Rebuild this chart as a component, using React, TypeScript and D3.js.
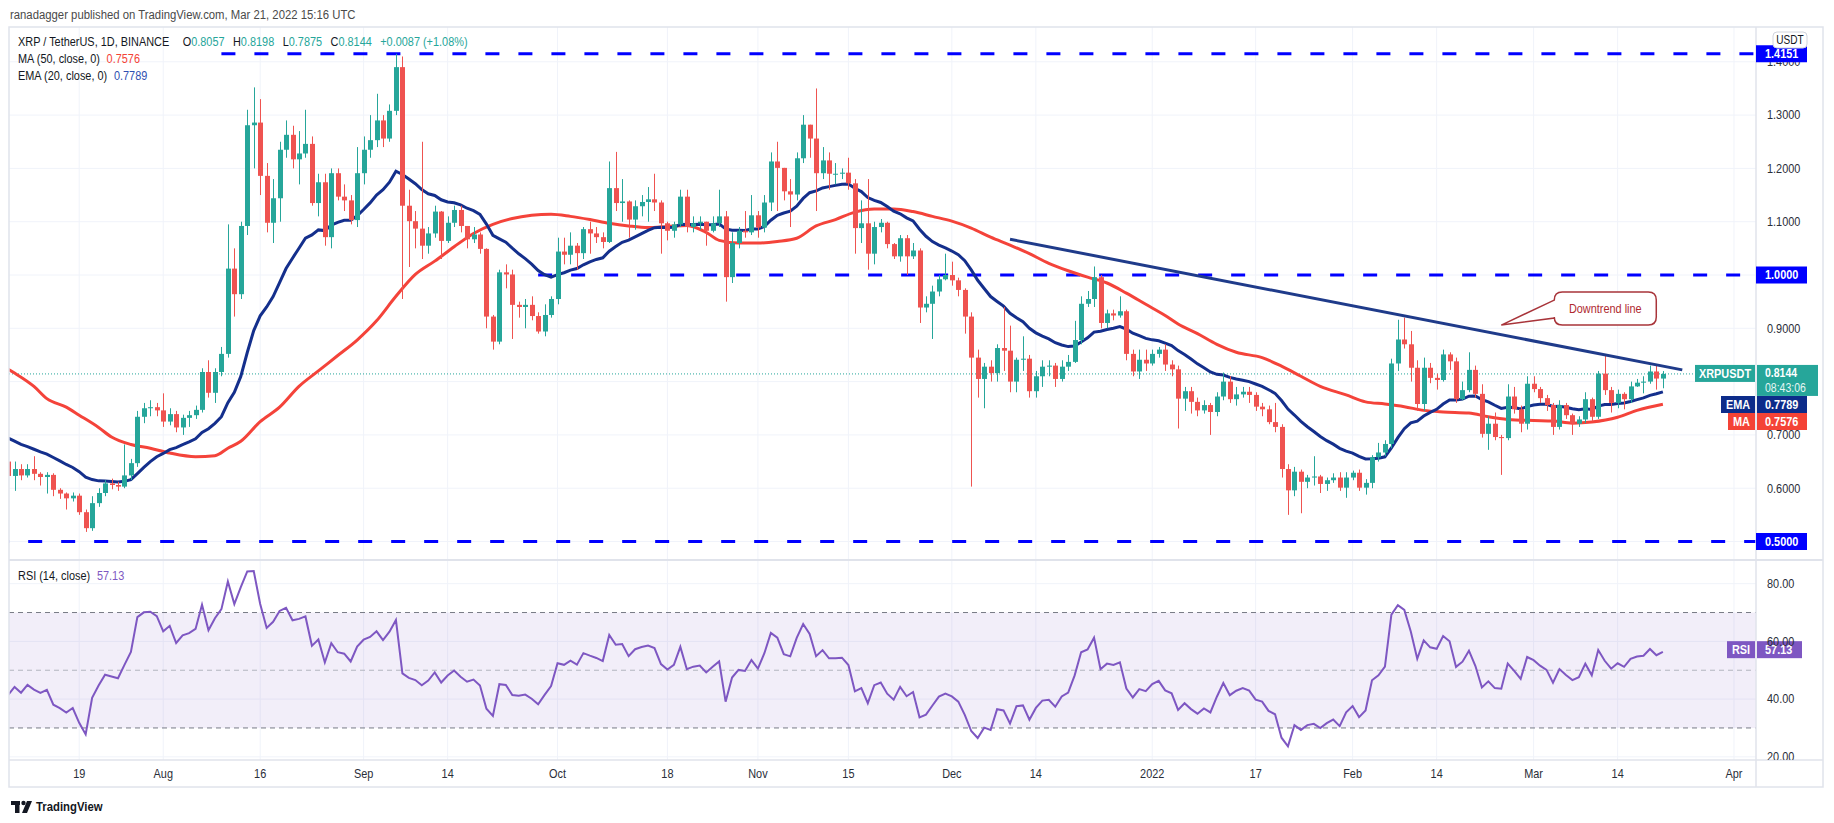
import React, { useEffect, useRef } from 'react';
import * as d3 from 'd3';

// XRP / TetherUS daily, Jul 8 2021 -> Mar 21 2022 (open = previous close)
const firstDay = '2021-07-08';
const firstOpen = 0.650;

const closes = [
  // Jul 8-31
  0.623, 0.636, 0.624, 0.636, 0.627, 0.621, 0.625, 0.597, 0.590, 0.581, 0.586, 0.555, 0.525, 0.572, 0.591, 0.609, 0.606, 0.603, 0.624, 0.647, 0.734, 0.750, 0.752, 0.746,
  // Aug
  0.725, 0.739, 0.714, 0.732, 0.737, 0.747, 0.818, 0.779, 0.818, 0.852, 1.012, 0.964, 1.092, 1.281, 1.286, 1.186, 1.098, 1.144, 1.235, 1.263, 1.217, 1.228, 1.246, 1.135, 1.174, 1.071, 1.191, 1.147, 1.140, 1.103, 1.191,
  // Sep
  1.235, 1.253, 1.290, 1.256, 1.308, 1.390, 1.130, 1.101, 1.087, 1.055, 1.078, 1.119, 1.064, 1.098, 1.122, 1.092, 1.067, 1.076, 1.049, 0.922, 0.875, 1.005, 1.001, 0.944, 0.940, 0.944, 0.923, 0.894, 0.925, 0.955,
  // Oct
  1.044, 1.038, 1.055, 1.041, 1.086, 1.078, 1.071, 1.062, 1.163, 1.135, 1.138, 1.104, 1.129, 1.137, 1.142, 1.136, 1.097, 1.083, 1.095, 1.147, 1.090, 1.097, 1.100, 1.083, 1.097, 1.110, 0.996, 1.060, 1.083, 1.080, 1.112,
  // Nov
  1.089, 1.136, 1.213, 1.201, 1.157, 1.151, 1.219, 1.282, 1.256, 1.191, 1.215, 1.190, 1.190, 1.192, 1.172, 1.088, 1.097, 1.040, 1.090, 1.098, 1.058, 1.035, 1.069, 1.035, 1.046, 0.939, 0.946, 0.969, 0.992, 1.000,
  // Dec
  0.990, 0.972, 0.922, 0.845, 0.805, 0.828, 0.816, 0.863, 0.858, 0.800, 0.841, 0.843, 0.782, 0.810, 0.828, 0.830, 0.805, 0.828, 0.837, 0.878, 0.946, 0.955, 0.996, 0.910, 0.928, 0.924, 0.932, 0.852, 0.819, 0.841, 0.834,
  // Jan
  0.852, 0.860, 0.832, 0.823, 0.768, 0.782, 0.762, 0.746, 0.756, 0.743, 0.772, 0.800, 0.767, 0.776, 0.781, 0.775, 0.753, 0.748, 0.724, 0.715, 0.636, 0.596, 0.631, 0.612, 0.620, 0.622, 0.608, 0.615, 0.620, 0.601, 0.620,
  // Feb
  0.629, 0.601, 0.610, 0.658, 0.667, 0.683, 0.834, 0.879, 0.870, 0.826, 0.758, 0.826, 0.807, 0.803, 0.851, 0.838, 0.767, 0.784, 0.822, 0.777, 0.702, 0.721, 0.696, 0.694, 0.772, 0.748, 0.721, 0.796,
  // Mar 1-21
  0.786, 0.769, 0.756, 0.715, 0.756, 0.737, 0.721, 0.729, 0.767, 0.734, 0.815, 0.784, 0.760, 0.777, 0.767, 0.791, 0.798, 0.800, 0.819, 0.8057, 0.8144,
];

const highs = [
  0.655, 0.650, 0.645, 0.645, 0.660, 0.630, 0.630, 0.628, 0.600, 0.592, 0.592, 0.590, 0.560, 0.585, 0.600, 0.615, 0.618, 0.612, 0.682, 0.655, 0.745, 0.760, 0.765, 0.760,
  0.778, 0.750, 0.745, 0.738, 0.745, 0.755, 0.825, 0.840, 0.825, 0.865, 1.095, 1.050, 1.100, 1.310, 1.352, 1.330, 1.210, 1.180, 1.250, 1.290, 1.280, 1.270, 1.310, 1.260, 1.190, 1.190, 1.200, 1.200, 1.170, 1.150, 1.240,
  1.260, 1.300, 1.340, 1.300, 1.320, 1.415, 1.410, 1.160, 1.120, 1.250, 1.090, 1.130, 1.120, 1.110, 1.130, 1.130, 1.090, 1.090, 1.080, 1.050, 0.925, 1.010, 1.020, 1.010, 0.950, 0.955, 0.960, 0.930, 0.945, 0.960,
  1.070, 1.070, 1.080, 1.060, 1.090, 1.100, 1.090, 1.080, 1.213, 1.231, 1.180, 1.140, 1.140, 1.150, 1.165, 1.190, 1.140, 1.100, 1.100, 1.160, 1.160, 1.110, 1.110, 1.100, 1.110, 1.160, 1.120, 1.080, 1.090, 1.120, 1.150,
  1.120, 1.150, 1.230, 1.250, 1.200, 1.180, 1.230, 1.300, 1.280, 1.350, 1.240, 1.230, 1.210, 1.200, 1.220, 1.180, 1.140, 1.180, 1.100, 1.105, 1.100, 1.060, 1.075, 1.075, 1.060, 1.050, 0.960, 0.980, 1.000, 1.040,
  1.025, 0.995, 0.975, 0.930, 0.860, 0.835, 0.840, 0.870, 0.940, 0.905, 0.845, 0.885, 0.850, 0.820, 0.840, 0.840, 0.835, 0.840, 0.850, 0.914, 0.960, 0.970, 1.016, 1.000, 0.935, 0.935, 0.960, 0.935, 0.860, 0.860, 0.860,
  0.860, 0.865, 0.870, 0.840, 0.830, 0.790, 0.790, 0.770, 0.765, 0.760, 0.780, 0.817, 0.810, 0.790, 0.790, 0.790, 0.780, 0.760, 0.755, 0.760, 0.720, 0.645, 0.640, 0.635, 0.625, 0.660, 0.625, 0.620, 0.628, 0.630, 0.630,
  0.633, 0.635, 0.617, 0.662, 0.685, 0.690, 0.843, 0.916, 0.920, 0.895, 0.840, 0.845, 0.835, 0.815, 0.860, 0.855, 0.845, 0.800, 0.855, 0.830, 0.795, 0.735, 0.742, 0.700, 0.795, 0.790, 0.755, 0.810,
  0.810, 0.790, 0.775, 0.760, 0.765, 0.760, 0.740, 0.735, 0.780, 0.770, 0.820, 0.848, 0.790, 0.785, 0.780, 0.800, 0.805, 0.810, 0.830, 0.830, 0.8198,
];

const lows = [
  0.615, 0.595, 0.615, 0.620, 0.615, 0.605, 0.590, 0.585, 0.580, 0.560, 0.575, 0.550, 0.518, 0.520, 0.565, 0.585, 0.598, 0.595, 0.600, 0.615, 0.640, 0.722, 0.735, 0.735,
  0.715, 0.718, 0.705, 0.700, 0.715, 0.730, 0.742, 0.770, 0.760, 0.810, 0.845, 0.922, 0.955, 1.075, 1.200, 1.150, 1.080, 1.060, 1.100, 1.220, 1.200, 1.170, 1.220, 1.130, 1.110, 1.055, 1.050, 1.140, 1.120, 1.095, 1.090,
  1.170, 1.220, 1.240, 1.240, 1.250, 1.300, 0.955, 1.015, 1.050, 1.030, 1.040, 1.070, 1.030, 1.060, 1.090, 1.080, 1.050, 1.060, 1.040, 0.900, 0.860, 0.870, 0.975, 0.880, 0.920, 0.900, 0.915, 0.890, 0.885, 0.920,
  0.945, 1.020, 1.020, 1.010, 1.030, 1.040, 1.060, 1.050, 1.060, 1.120, 1.100, 1.070, 1.085, 1.110, 1.100, 1.120, 1.040, 1.065, 1.070, 1.090, 1.080, 1.080, 1.085, 1.055, 1.080, 1.090, 0.950, 0.985, 1.050, 1.070, 1.075,
  1.070, 1.080, 1.120, 1.120, 1.140, 1.090, 1.140, 1.210, 1.220, 1.120, 1.180, 1.160, 1.170, 1.180, 1.160, 1.040, 1.060, 1.010, 1.020, 1.080, 1.050, 1.030, 1.025, 1.000, 1.030, 0.910, 0.930, 0.880, 0.960, 0.990,
  0.980, 0.960, 0.890, 0.603, 0.770, 0.750, 0.800, 0.800, 0.820, 0.780, 0.780, 0.820, 0.770, 0.770, 0.790, 0.810, 0.790, 0.800, 0.820, 0.835, 0.870, 0.940, 0.940, 0.900, 0.900, 0.915, 0.920, 0.840, 0.810, 0.805, 0.820,
  0.830, 0.845, 0.820, 0.810, 0.712, 0.745, 0.740, 0.735, 0.740, 0.700, 0.735, 0.765, 0.760, 0.755, 0.770, 0.760, 0.745, 0.735, 0.720, 0.705, 0.620, 0.550, 0.585, 0.553, 0.600, 0.605, 0.591, 0.595, 0.610, 0.595, 0.582,
  0.615, 0.595, 0.588, 0.600, 0.650, 0.660, 0.675, 0.820, 0.862, 0.800, 0.745, 0.745, 0.797, 0.785, 0.800, 0.822, 0.760, 0.765, 0.780, 0.770, 0.695, 0.672, 0.690, 0.625, 0.690, 0.740, 0.705, 0.710,
  0.780, 0.760, 0.745, 0.700, 0.710, 0.730, 0.700, 0.715, 0.722, 0.725, 0.730, 0.775, 0.742, 0.750, 0.748, 0.760, 0.790, 0.778, 0.796, 0.785, 0.7875,
];

// MA(50)
const maDates = [
  '2021-07-07', '2021-07-09', '2021-07-12', '2021-07-14', '2021-07-17', '2021-07-19', '2021-07-22', '2021-07-24', '2021-07-27', '2021-07-30', '2021-08-02',
  '2021-08-06', '2021-08-09', '2021-08-11', '2021-08-13', '2021-08-16', '2021-08-19', '2021-08-22', '2021-08-25', '2021-08-28', '2021-08-31',
  '2021-09-03', '2021-09-06', '2021-09-09', '2021-09-12', '2021-09-15', '2021-09-18', '2021-09-21', '2021-09-24', '2021-09-27', '2021-09-30',
  '2021-10-03', '2021-10-06', '2021-10-09', '2021-10-12', '2021-10-15', '2021-10-18', '2021-10-21', '2021-10-24', '2021-10-26', '2021-10-29',
  '2021-11-01', '2021-11-04', '2021-11-07', '2021-11-10', '2021-11-13', '2021-11-16', '2021-11-19', '2021-11-22', '2021-11-25', '2021-11-28',
  '2021-12-01', '2021-12-04', '2021-12-07', '2021-12-10', '2021-12-13', '2021-12-16', '2021-12-19', '2021-12-22', '2021-12-25', '2021-12-28',
  '2021-12-31', '2022-01-03', '2022-01-05', '2022-01-08', '2022-01-11', '2022-01-14', '2022-01-18', '2022-01-21', '2022-01-24', '2022-01-27',
  '2022-01-31', '2022-02-03', '2022-02-06', '2022-02-09', '2022-02-12', '2022-02-15', '2022-02-19', '2022-02-22', '2022-02-25', '2022-03-01',
  '2022-03-04', '2022-03-07', '2022-03-10', '2022-03-14', '2022-03-17', '2022-03-21',
];
const maValues = [
  0.830, 0.816, 0.791, 0.768, 0.752, 0.737, 0.714, 0.696, 0.682, 0.675, 0.666,
  0.659, 0.661, 0.675, 0.688, 0.725, 0.752, 0.791, 0.820, 0.849, 0.878,
  0.914, 0.960, 1.001, 1.026, 1.053, 1.078, 1.095, 1.106, 1.112, 1.114,
  1.110, 1.104, 1.097, 1.092, 1.089, 1.091, 1.093, 1.080, 1.065, 1.060,
  1.060, 1.063, 1.069, 1.092, 1.104, 1.118, 1.124, 1.124, 1.119, 1.110,
  1.101, 1.088, 1.071, 1.056, 1.040, 1.022, 1.008, 0.996, 0.985, 0.966,
  0.945, 0.924, 0.908, 0.890, 0.870, 0.855, 0.845, 0.829, 0.810, 0.791,
  0.775, 0.762, 0.758, 0.753, 0.746, 0.743, 0.741, 0.734, 0.729, 0.727,
  0.726, 0.722, 0.724, 0.733, 0.746, 0.7576,
];

const emaStart = 0.694; // EMA(20) value at the first visible bar
const rsiStartGain = 0.0082;
const rsiStartLoss = 0.0116;

const levelValues = [1.4151, 1.0, 0.5];
const levelFrom = ['2021-08-10', '2021-09-28', '2021-07-06'];

const trendDates = ['2021-12-10', '2022-03-24'];
const trendValues = [1.067, 0.822];

const priceTicks = [0.5, 0.6, 0.7, 0.8, 0.9, 1.0, 1.1, 1.2, 1.3, 1.4];
const rsiTicks = [20, 40, 60, 80];
const rsiBands = [70, 50, 30];

const tickDates = ['2021-07-19', '2021-08-01', '2021-08-16', '2021-09-01', '2021-09-14', '2021-10-01', '2021-10-18', '2021-11-01', '2021-11-15',
  '2021-12-01', '2021-12-14', '2022-01-01', '2022-01-17', '2022-02-01', '2022-02-14', '2022-03-01', '2022-03-14', '2022-04-01'];
const tickLabels = ['19', 'Aug', '16', 'Sep', '14', 'Oct', '18', 'Nov', '15', 'Dec', '14', '2022', '17', 'Feb', '14', 'Mar', '14', 'Apr'];

const UP = '#26a69a';
const DOWN = '#ef5350';
const FONT = '"Liberation Sans", Arial, sans-serif';
const SX = 0.84;

export default function App() {
  const svgRef = useRef<SVGSVGElement>(null);

  useEffect(() => {
    if (!svgRef.current) return;
    const svg = d3.select(svgRef.current);
    svg.selectAll('*').remove();

    const parse = d3.utcParse('%Y-%m-%d');
    const left = 9, right = 1756, frameR = 1823, top = 27;
    const priceBot = 560, rsiBot = 760, frameB = 787;

    const x = d3.scaleUtc()
      .domain([parse('2021-07-19')!, parse('2022-04-01')!])
      .range([79.2, 79.2 + 256 * 6.464]);
    const y = d3.scaleLinear().domain([0.4653, 1.4653]).range([priceBot, top]);
    const yr = d3.scaleLinear().domain([18.9, 88.2]).range([rsiBot, priceBot]);

    const t0 = parse(firstDay)!;
    const bars = closes.map((c, i) => {
      const o = i === 0 ? firstOpen : closes[i - 1];
      return { date: d3.utcDay.offset(t0, i), o, c, h: Math.max(highs[i], o, c), l: Math.min(lows[i], o, c) };
    });

    let e = emaStart;
    const ema = bars.map((b, i) => {
      if (i > 0) e = e + (b.c - e) * (2 / 21);
      return { date: b.date, v: e };
    });

    let ag = rsiStartGain, al = rsiStartLoss;
    const rsi = bars.map((b, i) => {
      if (i > 0) {
        const ch = b.c - bars[i - 1].c;
        ag = (ag * 13 + Math.max(ch, 0)) / 14;
        al = (al * 13 + Math.max(-ch, 0)) / 14;
      }
      return { date: b.date, v: 100 - 100 / (1 + ag / al) };
    });

    const text = (g: any, px: number, py: number, s: string, o: any = {}) =>
      g.append('text')
        .attr('transform', `translate(${px},${py}) scale(${o.sx ?? SX},1)`)
        .attr('font-family', FONT)
        .attr('font-size', o.size ?? 13)
        .attr('font-weight', o.weight ?? 'normal')
        .attr('text-anchor', o.anchor ?? 'start')
        .attr('dominant-baseline', 'central')
        .attr('fill', o.fill ?? '#131722')
        .text(s);

    svg.append('rect').attr('width', 1834).attr('height', 823).attr('fill', '#fff');

    const defs = svg.append('defs');
    defs.append('clipPath').attr('id', 'cp-price')
      .append('rect').attr('x', left).attr('y', top).attr('width', right - left).attr('height', priceBot - top);
    defs.append('clipPath').attr('id', 'cp-rsi')
      .append('rect').attr('x', left).attr('y', priceBot).attr('width', frameR - left).attr('height', rsiBot - priceBot);

    // grid
    const grid = svg.append('g').attr('stroke', '#f0f3fa').attr('stroke-width', 1);
    priceTicks.forEach(p => grid.append('line').attr('x1', left).attr('x2', right).attr('y1', y(p)).attr('y2', y(p)));
    rsiTicks.forEach(r => grid.append('line').attr('x1', left).attr('x2', right).attr('y1', yr(r)).attr('y2', yr(r)));
    tickDates.forEach(d => {
      const px = x(parse(d)!);
      grid.append('line').attr('x1', px).attr('x2', px).attr('y1', top).attr('y2', rsiBot);
    });

    // price panel
    const pg = svg.append('g').attr('clip-path', 'url(#cp-price)');

    levelValues.forEach((v, i) => {
      pg.append('line')
        .attr('x1', x(parse(levelFrom[i])!)).attr('x2', right)
        .attr('y1', y(v)).attr('y2', y(v))
        .attr('stroke', '#0000ff').attr('stroke-width', 3).attr('stroke-dasharray', '14 19');
    });

    const last = bars[bars.length - 1];
    pg.append('line')
      .attr('x1', left).attr('x2', 1695).attr('y1', y(last.c)).attr('y2', y(last.c))
      .attr('stroke', UP).attr('stroke-width', 1).attr('stroke-dasharray', '1 2');

    const ma = maDates.map((d, i) => ({ date: parse(d)!, v: maValues[i] }));
    pg.append('path').datum(ma)
      .attr('d', d3.line<{ date: Date; v: number }>().x(d => x(d.date)).y(d => y(d.v)).curve(d3.curveMonotoneX))
      .attr('fill', 'none').attr('stroke', '#f4433a').attr('stroke-width', 3);
    pg.append('path').datum(ema)
      .attr('d', d3.line<{ date: Date; v: number }>().x(d => x(d.date)).y(d => y(d.v)))
      .attr('fill', 'none').attr('stroke', '#142f8c').attr('stroke-width', 3);

    const bw = 5;
    const cg = pg.append('g');
    cg.selectAll('line.wick').data(bars).enter().append('line')
      .attr('x1', d => Math.round(x(d.date)) + 0.5).attr('x2', d => Math.round(x(d.date)) + 0.5)
      .attr('y1', d => y(d.h)).attr('y2', d => y(d.l))
      .attr('stroke', d => (d.c >= d.o ? UP : DOWN)).attr('stroke-width', 1);
    cg.selectAll('rect.body').data(bars).enter().append('rect')
      .attr('x', d => Math.round(x(d.date)) + 0.5 - bw / 2)
      .attr('y', d => y(Math.max(d.o, d.c)))
      .attr('width', bw)
      .attr('height', d => Math.max(1, Math.abs(y(d.o) - y(d.c))))
      .attr('fill', d => (d.c >= d.o ? UP : DOWN));

    // trend line
    pg.append('line')
      .attr('x1', x(parse(trendDates[0])!)).attr('y1', y(trendValues[0]))
      .attr('x2', x(parse(trendDates[1])!)).attr('y2', y(trendValues[1]))
      .attr('stroke', '#1f3b8a').attr('stroke-width', 3);

    // callout
    const tipX = x(parse('2022-02-24')!), tipY = y(0.906);
    const bx0 = tipX + 53, by0 = tipY - 33, bx1 = tipX + 155, by1 = tipY, r = 8;
    pg.append('path')
      .attr('d', `M${bx0 + r},${by0} H${bx1 - r} Q${bx1},${by0} ${bx1},${by0 + r} V${by1 - r} Q${bx1},${by1} ${bx1 - r},${by1}
        H${bx0 + r} Q${bx0},${by1} ${bx0},${by1 - r} L${bx0},${by1 - 7} L${tipX},${tipY} L${bx0},${by0 + 8} V${by0 + r} Q${bx0},${by0} ${bx0 + r},${by0} Z`)
      .attr('fill', '#fff').attr('stroke', '#a8343a').attr('stroke-width', 1.5);
    text(pg, (bx0 + bx1) / 2, (by0 + by1) / 2, 'Downtrend line', { anchor: 'middle', fill: '#b02a30', size: 13 });

    // RSI panel
    const rg = svg.append('g').attr('clip-path', 'url(#cp-rsi)');
    rg.append('rect').attr('x', left).attr('width', right - left)
      .attr('y', yr(70)).attr('height', yr(30) - yr(70)).attr('fill', '#7e57c2').attr('fill-opacity', 0.1);
    rsiBands.forEach(v => rg.append('line')
      .attr('x1', left).attr('x2', right).attr('y1', yr(v)).attr('y2', yr(v))
      .attr('stroke', v === 50 ? '#b2b5be' : '#787b86').attr('stroke-width', 1).attr('stroke-dasharray', '5 4'));
    rg.append('path').datum(rsi)
      .attr('d', d3.line<{ date: Date; v: number }>().x(d => x(d.date)).y(d => yr(d.v)))
      .attr('fill', 'none').attr('stroke', '#7e57c2').attr('stroke-width', 2);

    // frame & separators
    const fr = svg.append('g').attr('stroke', '#e0e3eb').attr('fill', 'none');
    fr.append('rect').attr('x', left).attr('y', top).attr('width', frameR - left).attr('height', frameB - top).attr('stroke-width', 1.5);
    fr.append('line').attr('x1', right).attr('x2', right).attr('y1', top).attr('y2', frameB).attr('stroke-width', 1.5);
    fr.append('line').attr('x1', left).attr('x2', frameR).attr('y1', priceBot).attr('y2', priceBot).attr('stroke-width', 2);
    fr.append('line').attr('x1', left).attr('x2', frameR).attr('y1', rsiBot).attr('y2', rsiBot).attr('stroke-width', 1.5);

    // price axis labels (1.4000 and 0.8000 sit under their badges, as in the original)
    const ax = svg.append('g');
    priceTicks.filter(p => p !== 0.5 && p !== 1.0).forEach(p => text(ax, 1767, y(p), p.toFixed(4), { fill: '#2a2e39' }));
    const ra = svg.append('g').attr('clip-path', 'url(#cp-rsi)');
    rsiTicks.forEach(v => text(ra, 1767, yr(v), v.toFixed(2), { fill: '#2a2e39' }));

    tickDates.forEach((d, i) => text(ax, x(parse(d)!), 773.5, tickLabels[i], { anchor: 'middle', fill: '#2a2e39' }));

    // price-axis badges
    const badge = (bx: number, by: number, w: number, h: number, fill: string) =>
      ax.append('rect').attr('x', bx).attr('y', by).attr('width', w).attr('height', h).attr('fill', fill);
    levelValues.forEach(v => {
      badge(1756, y(v) - 8.5, 51, 17, '#0000ff');
      text(ax, 1765, y(v), v.toFixed(4), { fill: '#fff', weight: 'bold' });
    });

    const yc = y(last.c);
    badge(1695, yc - 9, 60, 17, UP);
    badge(1757, yc - 9, 61, 31, UP);
    text(ax, 1725, yc - 0.5, 'XRPUSDT', { anchor: 'middle', fill: '#fff', weight: 'bold' });
    text(ax, 1765, yc - 1, last.c.toFixed(4), { fill: '#fff', weight: 'bold', size: 12.5 });
    text(ax, 1765, yc + 14, '08:43:06', { fill: '#e6f6f4', size: 12.5 });

    badge(1721, 396, 34, 17, '#0d2c8a');
    badge(1757, 396, 50, 17, '#0d2c8a');
    text(ax, 1738, 404.5, 'EMA', { anchor: 'middle', fill: '#fff', weight: 'bold' });
    text(ax, 1765, 404.5, '0.7789', { fill: '#fff', weight: 'bold' });

    badge(1728, 413, 27, 17, '#f44336');
    badge(1757, 413, 50, 17, '#f44336');
    text(ax, 1741.5, 421.5, 'MA', { anchor: 'middle', fill: '#fff', weight: 'bold' });
    text(ax, 1765, 421.5, maValues[maValues.length - 1].toFixed(4), { fill: '#fff', weight: 'bold' });

    badge(1727, yr(57.13) - 8.5, 28, 17, '#7e57c2');
    badge(1757, yr(57.13) - 8.5, 45, 17, '#7e57c2');
    text(ax, 1741, yr(57.13), 'RSI', { anchor: 'middle', fill: '#fff', weight: 'bold' });
    text(ax, 1765, yr(57.13), '57.13', { fill: '#fff', weight: 'bold' });

    ax.append('rect').attr('x', 1773).attr('y', 32).attr('width', 34).attr('height', 16).attr('rx', 4)
      .attr('fill', '#fff').attr('stroke', '#d1d4dc');
    text(ax, 1790, 40, 'USDT', { anchor: 'middle', size: 12 });

    // header / legends
    text(svg, 10, 15, 'ranadagger published on TradingView.com, Mar 21, 2022 15:16 UTC', { fill: '#4a4a4a', size: 13.5 });
    const legendLine = (py: number) => svg.append('text')
      .attr('transform', `translate(18,${py}) scale(${SX},1)`)
      .attr('font-family', FONT).attr('font-size', 13).attr('dominant-baseline', 'central').attr('fill', '#131722');

    const lg = legendLine(42);
    lg.append('tspan').text('XRP / TetherUS, 1D, BINANCE');
    [['O', last.o], ['H', last.h], ['L', last.l], ['C', last.c]].forEach(([k, v], i) => {
      lg.append('tspan').attr('dx', i === 0 ? 16 : 10).text(k as string);
      lg.append('tspan').attr('fill', UP).text((v as number).toFixed(4));
    });
    lg.append('tspan').attr('dx', 10).attr('fill', UP).text('+0.0087 (+1.08%)');

    const l2 = legendLine(59);
    l2.append('tspan').text('MA (50, close, 0)');
    l2.append('tspan').attr('dx', 8).attr('fill', '#f44336').text(maValues[maValues.length - 1].toFixed(4));

    const l3 = legendLine(76);
    l3.append('tspan').text('EMA (20, close, 0)');
    l3.append('tspan').attr('dx', 8).attr('fill', '#2f4fb1').text('0.7789');

    const l4 = legendLine(576);
    l4.append('tspan').text('RSI (14, close)');
    l4.append('tspan').attr('dx', 8).attr('fill', '#7e57c2').text('57.13');

    // footer logo
    const lo = svg.append('g').attr('fill', '#131722');
    lo.append('rect').attr('x', 11).attr('y', 801).attr('width', 9).attr('height', 4);
    lo.append('rect').attr('x', 15).attr('y', 801).attr('width', 4.5).attr('height', 12);
    lo.append('circle').attr('cx', 23.5).attr('cy', 803).attr('r', 2.2);
    lo.append('path').attr('d', 'M22,813 L27,801 L32,801 L27,813 Z');
    text(svg, 36, 807, 'TradingView', { weight: 'bold', size: 13.5 });
  }, []);

  return (
    <svg ref={svgRef} width={1834} height={823} style={{ position: 'fixed', left: 0, top: 0, display: 'block' }} />
  );
}
